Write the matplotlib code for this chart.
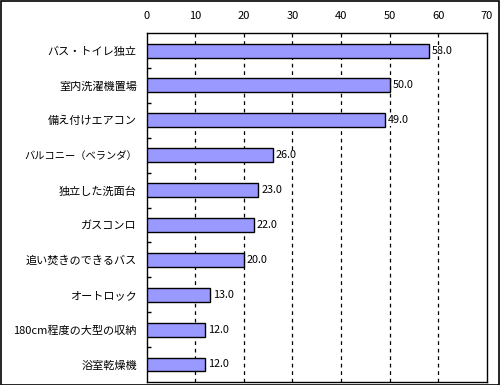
import matplotlib
matplotlib.use("Agg")
import matplotlib.pyplot as plt
from matplotlib.patches import Rectangle

plt.rcParams['font.family'] = ['Noto Sans CJK JP', 'DejaVu Sans']

categories = ["バス・トイレ独立", "室内洗濯機置場", "備え付けエアコン", "バルコニー（ベランダ）",
              "独立した洗面台", "ガスコンロ", "追い焚きのできるバス", "オートロック",
              "180cm程度の大型の収納", "浴室乾燥機"]
values = [58.0, 50.0, 49.0, 26.0, 23.0, 22.0, 20.0, 13.0, 12.0, 12.0]
xticks = [0, 10, 20, 30, 40, 50, 60, 70]

fig = plt.figure(figsize=(5, 3.85), dpi=100)
ax = fig.add_axes([0.293, 0.008, 0.681, 0.906])

y = list(range(len(categories)))
ax.barh(y, values, height=0.4, color='#9999FF', edgecolor='black', linewidth=1, zorder=3)
for yi, v in zip(y, values):
    ax.text(v + 0.6, yi, f"{v:.1f}", va='center', ha='left', fontsize=7.8, zorder=4,
            bbox=dict(facecolor='white', edgecolor='none', pad=0.5))

ax.set_xlim(0, 70)
ax.set_ylim(len(categories) - 0.5, -0.5)
ax.set_xticks(xticks)
ax.xaxis.tick_top()
ax.tick_params(axis='x', length=0, labelsize=8, pad=9)
ax.set_yticks(y)
labels = ax.set_yticklabels(categories, fontsize=8)
for lab in labels:
    if '（' in lab.get_text():
        lab.set_fontsize(7.4)
ax.tick_params(axis='y', length=0, pad=7)
ax.set_yticks([i + 0.5 for i in range(len(categories) - 1)], minor=True)
ax.tick_params(axis='y', which='minor', direction='in', length=3, width=1)
for xv in xticks[1:-1]:
    ax.axvline(xv, color='black', linestyle=(0, (3, 3)), linewidth=0.9, zorder=1)
for s in ax.spines.values():
    s.set_linewidth(1)
    s.set_color('black')

fig.patches.append(Rectangle((0.001, 0.001), 0.997, 0.996, transform=fig.transFigure,
                             fill=False, edgecolor='black', linewidth=1.2))
fig.savefig("out.png", dpi=100)
